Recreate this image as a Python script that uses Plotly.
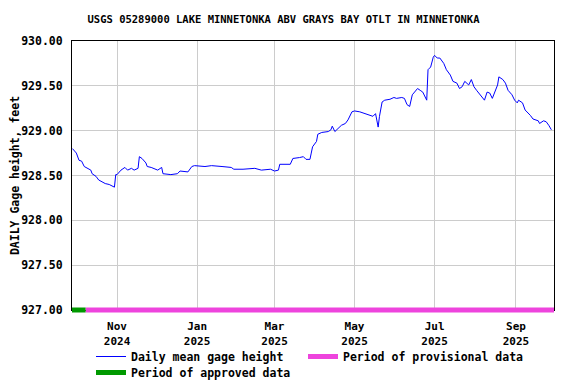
import plotly.graph_objects as go

dates = [
    "2024-09-28", "2024-10-01", "2024-10-03", "2024-10-05", "2024-10-07", "2024-10-10",
    "2024-10-12", "2024-10-13", "2024-10-16", "2024-10-18", "2024-10-21", "2024-10-23",
    "2024-10-26", "2024-10-27", "2024-10-29", "2024-10-30", "2024-10-31", "2024-11-01",
    "2024-11-04", "2024-11-07", "2024-11-09", "2024-11-12", "2024-11-14", "2024-11-17",
    "2024-11-18", "2024-11-20", "2024-11-23", "2024-11-24", "2024-11-27", "2024-11-29",
    "2024-12-02", "2024-12-05", "2024-12-06", "2024-12-12", "2024-12-17", "2024-12-19",
    "2024-12-25", "2024-12-28", "2024-12-30", "2025-01-07", "2025-01-12", "2025-01-20",
    "2025-01-27", "2025-01-29", "2025-02-05", "2025-02-14", "2025-02-19", "2025-02-26",
    "2025-03-01", "2025-03-04", "2025-03-05", "2025-03-13", "2025-03-15", "2025-03-20",
    "2025-03-23", "2025-03-25", "2025-03-28", "2025-03-29", "2025-03-30", "2025-04-02",
    "2025-04-03", "2025-04-06", "2025-04-11", "2025-04-13", "2025-04-14", "2025-04-16",
    "2025-04-19", "2025-04-21", "2025-04-24", "2025-04-26", "2025-04-29", "2025-05-01",
    "2025-05-05", "2025-05-09", "2025-05-13", "2025-05-15", "2025-05-17", "2025-05-18",
    "2025-05-19", "2025-05-20", "2025-05-22", "2025-05-24", "2025-05-28", "2025-05-31",
    "2025-06-02", "2025-06-06", "2025-06-08", "2025-06-10", "2025-06-12", "2025-06-14",
    "2025-06-16", "2025-06-18", "2025-06-20", "2025-06-22", "2025-06-25", "2025-06-26",
    "2025-06-28", "2025-06-30", "2025-07-01", "2025-07-03", "2025-07-05", "2025-07-08",
    "2025-07-10", "2025-07-13", "2025-07-15", "2025-07-18", "2025-07-20", "2025-07-22",
    "2025-07-24", "2025-07-27", "2025-07-29", "2025-07-31", "2025-08-02", "2025-08-05",
    "2025-08-08", "2025-08-10", "2025-08-12", "2025-08-14", "2025-08-16", "2025-08-18",
    "2025-08-19", "2025-08-22", "2025-08-24", "2025-08-26", "2025-08-29", "2025-08-31",
    "2025-09-02", "2025-09-03", "2025-09-06", "2025-09-08", "2025-09-12", "2025-09-14",
    "2025-09-18", "2025-09-19", "2025-09-22", "2025-09-24", "2025-09-26", "2025-09-28",
]
gage_height = [
    928.80, 928.75, 928.67, 928.66, 928.60, 928.58,
    928.56, 928.52, 928.49, 928.45, 928.43, 928.41,
    928.40, 928.39, 928.38, 928.37, 928.51, 928.51,
    928.56, 928.59, 928.56, 928.58, 928.56, 928.58,
    928.71, 928.69, 928.64, 928.60, 928.59, 928.58,
    928.56, 928.59, 928.52, 928.51, 928.52, 928.55,
    928.54, 928.60, 928.61, 928.60, 928.61, 928.60,
    928.59, 928.57, 928.57, 928.58, 928.56, 928.57,
    928.55, 928.56, 928.625, 928.625, 928.69, 928.70,
    928.71, 928.68, 928.68, 928.75, 928.82, 928.88,
    928.96, 928.98, 928.99, 929.01, 929.05, 928.99,
    929.03, 929.06, 929.08, 929.12, 929.21, 929.22,
    929.21, 929.19, 929.17, 929.16, 929.19, 929.12,
    929.04, 929.16, 929.32, 929.34, 929.35, 929.37,
    929.36, 929.37, 929.36, 929.29, 929.27, 929.40,
    929.43, 929.47, 929.45, 929.43, 929.34, 929.68,
    929.71, 929.82, 929.84, 929.81, 929.81, 929.75,
    929.68, 929.62, 929.55, 929.53, 929.47, 929.49,
    929.55, 929.51, 929.57, 929.49, 929.45, 929.40,
    929.34, 929.43, 929.42, 929.36, 929.43, 929.51,
    929.60, 929.57, 929.53, 929.45, 929.40, 929.34,
    929.31, 929.34, 929.31, 929.23, 929.17, 929.13,
    929.11, 929.08, 929.11, 929.10, 929.06, 929.01,
]

approved_period = ["2024-09-27 16:00", "2024-10-08"]
provisional_period = ["2024-10-08", "2025-09-30"]
x_range = ["2024-09-27 16:00", "2025-09-30"]
y_ticks = [927.0, 927.5, 928.0, 928.5, 929.0, 929.5, 930.0]

TITLE = "USGS 05289000 LAKE MINNETONKA ABV GRAYS BAY OTLT IN MINNETONKA"
FONT = "DejaVu Sans Mono"

# the page body adds an 8px margin, so the figure is drawn 8px smaller
W, H = 568, 376
L, R, T, B = 64, 22, 33, 74
plot_w = W - L - R
plot_h = H - T - B

fig = go.Figure()
fig.add_trace(go.Scatter(
    x=dates, y=gage_height, mode="lines",
    line=dict(color="#0000ff", width=1),
    name="Daily mean gage height", legend="legend",
))
fig.add_trace(go.Scatter(
    x=[None], y=[None], mode="lines",
    line=dict(color="#ee44dd", width=5),
    name="Period of provisional data", legend="legend2",
))
fig.add_trace(go.Scatter(
    x=[None], y=[None], mode="lines",
    line=dict(color="#009900", width=5),
    name="Period of approved data", legend="legend3",
))

fig.add_shape(type="line", xref="x", yref="paper",
              x0=provisional_period[0], x1=provisional_period[1], y0=0, y1=0,
              line=dict(color="#ee44dd", width=5))
fig.add_shape(type="line", xref="x", yref="paper",
              x0=approved_period[0], x1=approved_period[1], y0=0, y1=0,
              line=dict(color="#009900", width=5))


def legend_at(px_x, px_top):
    return dict(x=(px_x - L) / plot_w, xanchor="left",
                y=-(px_top - (H - B)) / plot_h, yanchor="top",
                font=dict(family=FONT, size=11.5, weight="bold"),
                bgcolor="rgba(0,0,0,0)", itemclick=False, itemdoubleclick=False)


fig.update_layout(
    width=W, height=H,
    margin=dict(l=L, r=R, t=T, b=B, autoexpand=False),
    paper_bgcolor="white", plot_bgcolor="white",
    font=dict(family=FONT, size=11.5, color="black", weight="bold"),
    title=dict(text=TITLE, x=275.5 / W, xanchor="center", y=1 - 11 / H, yanchor="middle",
               font=dict(family=FONT, size=10.5, color="black", weight="bold")),
    showlegend=True,
    legend=legend_at(83, 334),
    legend2=legend_at(295, 334),
    legend3=legend_at(83, 350),
)
fig.update_xaxes(
    type="date", range=x_range, automargin=False,
    tickformat="%b<br>%Y", dtick="M2", tick0="2024-11-01",
    tickfont=dict(size=11),
    showgrid=True, gridcolor="#cccccc", gridwidth=1,
    showline=True, linecolor="black", linewidth=1, mirror=True,
    ticks="", ticklabelstandoff=6,
    zeroline=False,
)
fig.update_yaxes(
    range=[927.0, 930.0], tickvals=y_ticks, tickformat=".2f", automargin=False,
    showgrid=True, gridcolor="#cccccc", gridwidth=1,
    showline=True, linecolor="black", linewidth=1, mirror=True,
    ticks="", ticklabelstandoff=6,
    zeroline=False,
    title=dict(text="DAILY Gage height, feet", standoff=14,
               font=dict(family=FONT, size=11.5, weight="bold")),
)

fig.write_html("out.html")
